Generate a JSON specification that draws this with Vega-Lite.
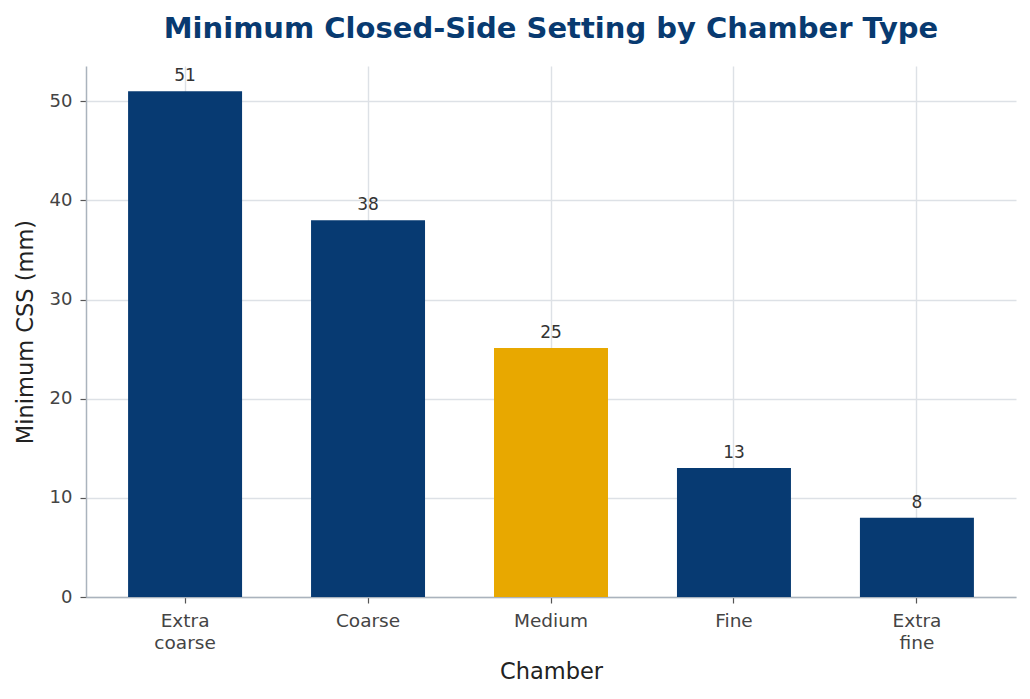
{
  "$schema": "https://vega.github.io/schema/vega-lite/v6.json",
  "width": 930,
  "height": 531,
  "autosize": {"type": "none"},
  "padding": {"left": 86, "top": 66, "right": 14, "bottom": 102},
  "background": "white",
  "title": {
    "text": "Minimum Closed-Side Setting by Chamber Type",
    "font": "DejaVu Sans",
    "fontSize": 29,
    "fontWeight": "bold",
    "color": "#083a70",
    "anchor": "middle",
    "offset": 22
  },
  "config": {
    "view": {"stroke": null},
    "font": "DejaVu Sans"
  },
  "data": {
    "values": [
      {"chamber": "Extra coarse", "css": 51, "highlight": "no"},
      {"chamber": "Coarse", "css": 38, "highlight": "no"},
      {"chamber": "Medium", "css": 25.1, "highlight": "yes"},
      {"chamber": "Fine", "css": 13, "highlight": "no"},
      {"chamber": "Extra fine", "css": 8, "highlight": "no"}
    ]
  },
  "encoding": {
    "x": {
      "field": "chamber",
      "type": "nominal",
      "sort": null,
      "scale": {"paddingInner": 0.377, "paddingOuter": 0.23},
      "axis": {
        "title": "Chamber",
        "titleFont": "DejaVu Sans",
        "titleFontSize": 22.5,
        "titleFontWeight": "normal",
        "titleColor": "#222222",
        "titlePadding": 9,
        "labelFont": "DejaVu Sans",
        "labelFontSize": 18.5,
        "labelColor": "#444444",
        "labelAngle": 0,
        "labelPadding": 8,
        "labelLineHeight": 22,
        "labelExpr": "split(datum.label, ' ')",
        "grid": true,
        "gridColor": "#dde1e6",
        "gridWidth": 1.4,
        "domainColor": "#aab3bd",
        "domainWidth": 1.5,
        "tickColor": "#555555",
        "tickSize": 6,
        "tickWidth": 1.2,
        "bandPosition": 0.5
      }
    },
    "y": {
      "field": "css",
      "type": "quantitative",
      "scale": {"domain": [0, 53.55], "nice": false},
      "axis": {
        "title": "Minimum CSS (mm)",
        "titleFont": "DejaVu Sans",
        "titleFontSize": 22.5,
        "titleFontWeight": "normal",
        "titleColor": "#222222",
        "titlePadding": 12,
        "labelFont": "DejaVu Sans",
        "labelFontSize": 18,
        "labelColor": "#444444",
        "labelPadding": 8,
        "values": [0, 10, 20, 30, 40, 50],
        "grid": true,
        "gridColor": "#dde1e6",
        "gridWidth": 1.4,
        "domainColor": "#aab3bd",
        "domainWidth": 1.5,
        "tickColor": "#555555",
        "tickSize": 6,
        "tickWidth": 1.2
      }
    }
  },
  "layer": [
    {
      "mark": {"type": "bar"},
      "encoding": {
        "color": {
          "field": "highlight",
          "type": "nominal",
          "scale": {"domain": ["no", "yes"], "range": ["#073a72", "#e8a800"]},
          "legend": null
        }
      }
    },
    {
      "mark": {"type": "text", "baseline": "bottom", "dy": -6, "fontSize": 17, "color": "#333333", "font": "DejaVu Sans"},
      "encoding": {
        "text": {"field": "css", "type": "quantitative", "format": ".0f"}
      }
    }
  ]
}
